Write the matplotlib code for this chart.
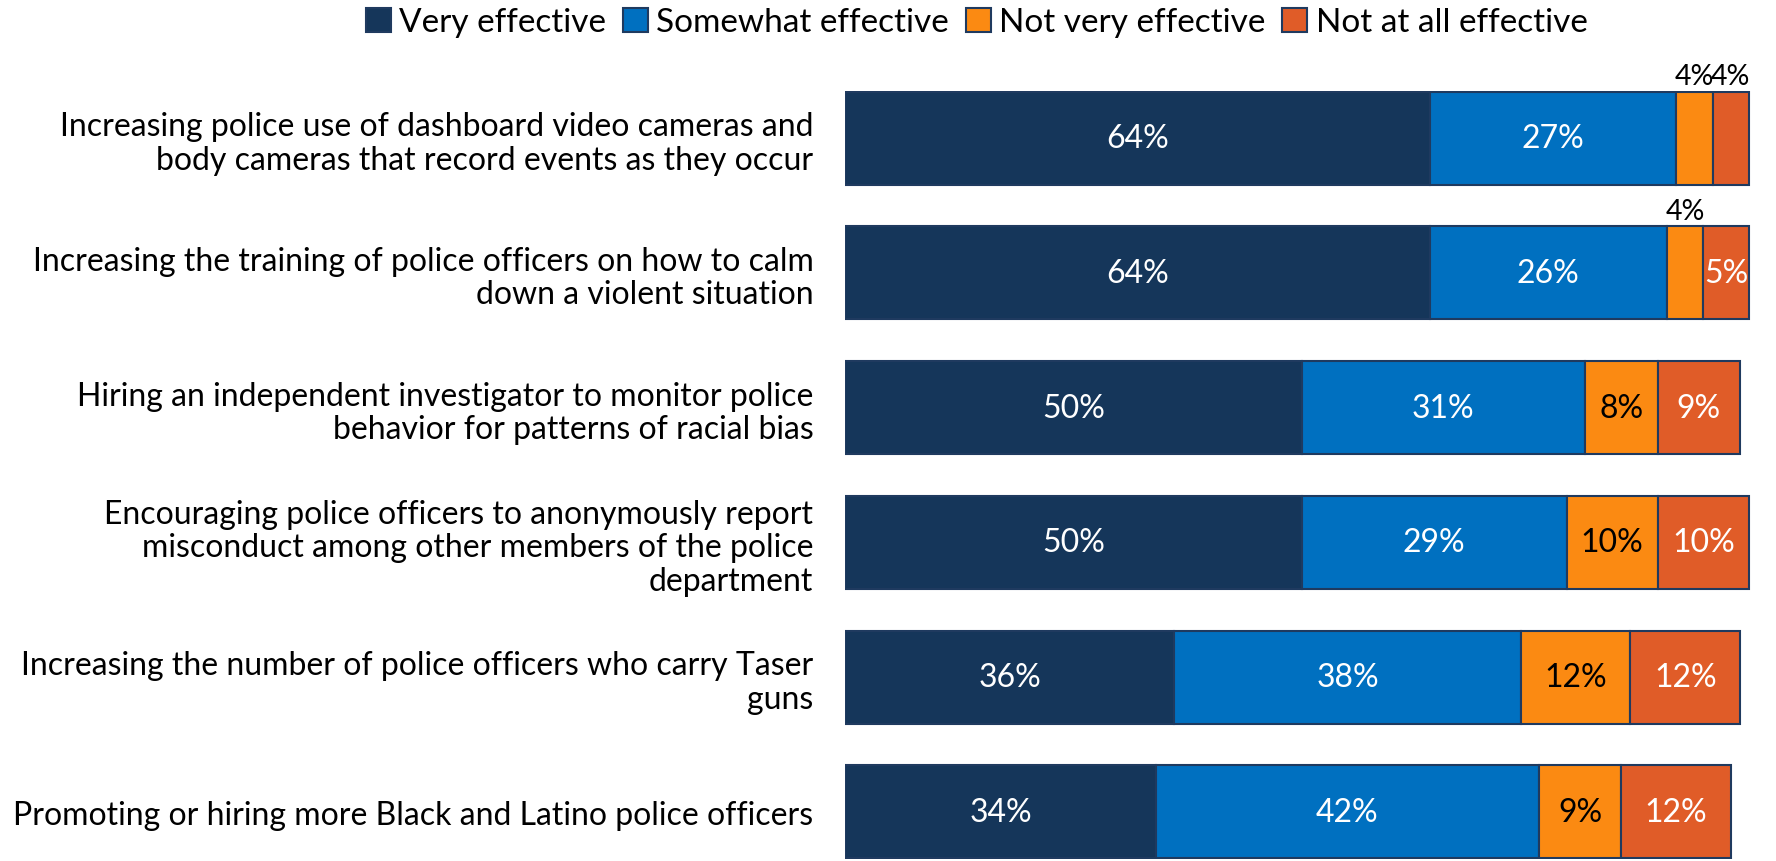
import numpy as np
import matplotlib.pyplot as plt

plt.rcParams['font.family'] = ['Lato', 'DejaVu Sans']

categories = [
    'Increasing police use of dashboard video cameras and\nbody cameras that record events as they occur',
    'Increasing the training of police officers on how to calm\ndown a violent situation',
    'Hiring an independent investigator to monitor police\nbehavior for patterns of racial bias',
    'Encouraging police officers to anonymously report\nmisconduct among other members of the police\ndepartment',
    'Increasing the number of police officers who carry Taser\nguns',
    'Promoting or hiring more Black and Latino police officers',
]
series_names = ['Very effective', 'Somewhat effective', 'Not very effective', 'Not at all effective']
very = [64, 64, 50, 50, 36, 34]
somewhat = [27, 26, 31, 29, 38, 42]
not_very = [4, 4, 8, 10, 12, 9]
not_at_all = [4, 5, 9, 10, 12, 12]

colors = ['#15365A', '#0070C0', '#FB8A12', '#E05C28']
text_colors = ['white', 'white', 'black', 'white']

fig = plt.figure(figsize=(17.76, 8.62), dpi=100)
ax = fig.add_axes([0.476, 0.0023, 0.514, 0.891])

y = np.arange(len(categories))
left = np.zeros(len(categories))
for k, vals in enumerate([very, somewhat, not_very, not_at_all]):
    vals = np.array(vals, dtype=float)
    bars = ax.barh(y, vals, left=left, height=0.69, color=colors[k],
                   edgecolor='#1F3A5F', linewidth=1.5, label=series_names[k])
    for i, b in enumerate(bars):
        cx = left[i] + vals[i] / 2
        lab = '%d%%' % vals[i]
        if vals[i] <= 4:
            # small segments get their label above the bar
            ax.text(cx, y[i] - 0.345 - 0.02, lab, ha='center', va='bottom',
                    fontsize=20.5, color='black')
        else:
            ax.text(cx, y[i], lab, ha='center', va='center',
                    fontsize=23, color=text_colors[k])
    left += vals

ax.set_xlim(0, 100)
ax.set_ylim(5.35, -0.35)
ax.set_yticks(y)
ax.set_yticklabels(categories, fontsize=23, ha='right', linespacing=1.15)
ax.tick_params(axis='y', length=0, pad=23)
ax.set_xticks([])
for s in ax.spines.values():
    s.set_visible(False)

fig.legend(loc='upper center', bbox_to_anchor=(0.55, 1.025), ncol=4, frameon=False,
           fontsize=24, handlelength=0.75, handleheight=0.75, handletextpad=0.25,
           columnspacing=0.5)

fig.savefig('out.png', dpi=100)
